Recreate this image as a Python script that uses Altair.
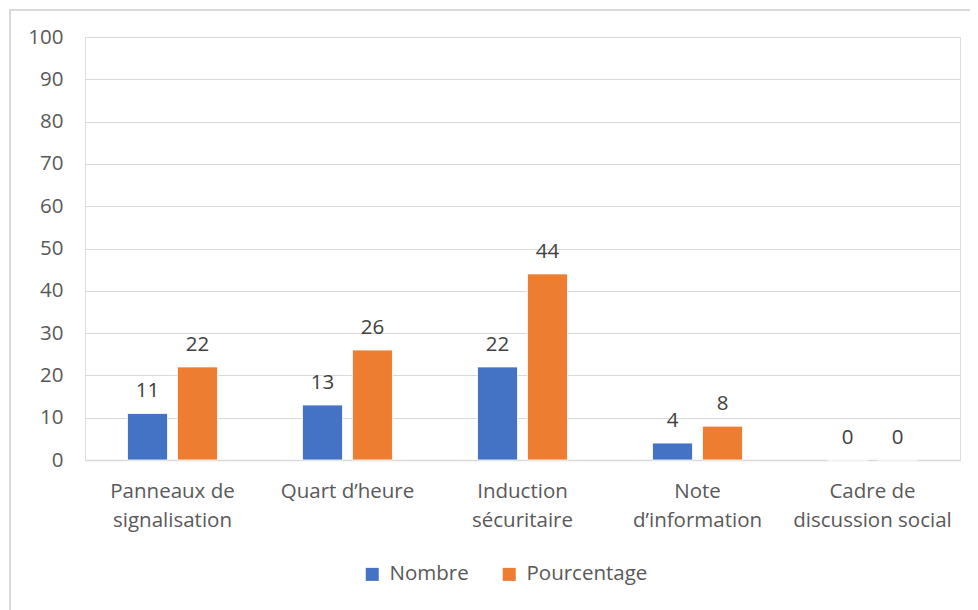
import altair as alt
import pandas as pd

categories = ["Panneaux de|signalisation", "Quart d’heure", "Induction|sécuritaire",
              "Note|d’information", "Cadre de|discussion social"]
nombre = [11, 13, 22, 4, 0]
pourcentage = [22, 26, 44, 8, 0]
series = ["Nombre", "Pourcentage"]
colors = ["#4472C4", "#ED7D31"]
y_ticks = [0, 10, 20, 30, 40, 50, 60, 70, 80, 90, 100]

rows = []
for c, n, p in zip(categories, nombre, pourcentage):
    rows.append({"cat": c, "serie": series[0], "val": n})
    rows.append({"cat": c, "serie": series[1], "val": p})
df = pd.DataFrame(rows)

FONT = "Open Sans"
FS = 20.5
W, H = 875, 423

x_enc = alt.X("cat:N", sort=categories, title=None,
              scale=alt.Scale(paddingInner=0.486, paddingOuter=0.243),
              axis=alt.Axis(labelExpr="split(datum.label, '|')", labelAngle=0,
                            labelFontSize=FS, labelColor="#595959", labelFont=FONT,
                            labelPadding=21, labelLineHeight=29, labelBaseline="top",
                            ticks=False, domainColor="#D9D9D9", domainWidth=1.5,
                            grid=False))
xo_enc = alt.XOffset("serie:N", sort=series,
                     scale=alt.Scale(paddingInner=0.2, paddingOuter=0))
y_enc = alt.Y("val:Q", title=None,
              scale=alt.Scale(domain=[0, 100], nice=False),
              axis=alt.Axis(values=y_ticks, labelFontSize=FS, labelColor="#595959",
                            labelFont=FONT, labelPadding=22, ticks=False, domain=False,
                            gridColor="#D9D9D9", gridWidth=1.2))

base = alt.Chart(df)

bars = base.mark_bar(stroke="white", strokeWidth=0.8).encode(
    x=x_enc, xOffset=xo_enc, y=y_enc,
    color=alt.Color("serie:N", sort=series, title=None,
                    scale=alt.Scale(domain=series, range=colors),
                    legend=alt.Legend(orient="none", direction="horizontal",
                                      legendX=277, legendY=527,
                                      symbolType="square", symbolSize=170,
                                      symbolStrokeWidth=0,
                                      labelFontSize=FS, labelColor="#595959",
                                      labelFont=FONT, columnPadding=30, labelOffset=7)),
)

labels = base.mark_text(baseline="bottom", dy=-12, fontSize=FS, font=FONT,
                        color="#404040").encode(
    x=alt.X("cat:N", sort=categories), xOffset=xo_enc,
    y=alt.Y("val:Q"), text="val:Q",
)

frame = alt.Chart(pd.DataFrame({"a": [0]})).mark_rect(
    fill=None, stroke="#D9D9D9", strokeWidth=2).encode(
    x=alt.value(-75), x2=alt.value(2000), y=alt.value(-27), y2=alt.value(2000))

chart = alt.layer(frame, bars, labels).properties(
    width=W, height=H,
    autosize=alt.AutoSizeParams(type="none"),
    padding={"left": 77, "top": 29, "right": 10, "bottom": 170},
).configure_view(stroke=None).configure(background="white")

chart.save("out.html", embed_options={"renderer": "svg", "actions": False})
